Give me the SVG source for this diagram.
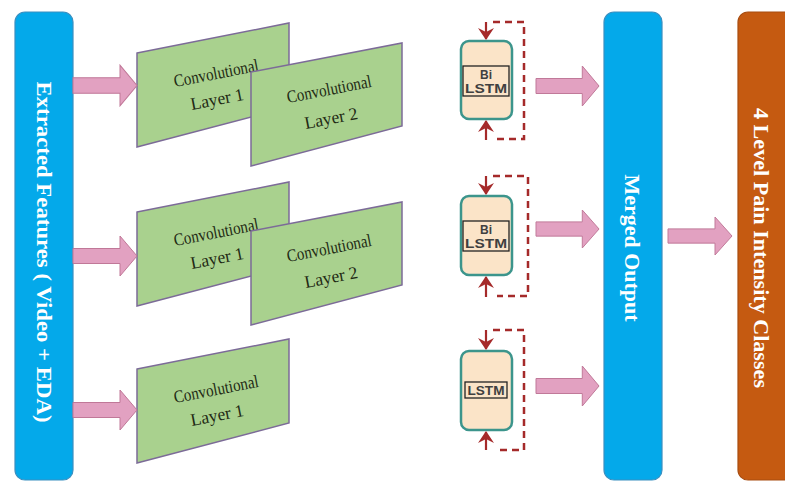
<svg xmlns="http://www.w3.org/2000/svg" width="785" height="481" viewBox="0 0 785 481">
<defs>
<style>
.bar{stroke:#3a8fc0;stroke-width:1.2}
.blue{fill:#04a9ea}
.orange{fill:#c55a11;stroke:#a84c10;stroke-width:1.2}
.bartxt{font-family:"Liberation Serif","Times New Roman",serif;font-weight:bold;font-size:22px;fill:#ffffff;text-anchor:middle}
.conv{fill:#a9d18e;stroke:#7c6b98;stroke-width:1.5}
.convtxt{font-family:"Liberation Serif","Times New Roman",serif;font-size:17.5px;fill:#1f2a14;text-anchor:middle}
.arrow{fill:#e2a1c1;stroke:#c07898;stroke-width:1}
.lstm{fill:#fbe4c8;stroke:#3c958c;stroke-width:2.5}
.inner{fill:none;stroke:#222222;stroke-width:1.3}
.lstmtxt{font-family:"Liberation Sans",Arial,sans-serif;font-weight:bold;font-size:12px;fill:#404040;text-anchor:middle}
.loop{fill:none;stroke:#a52a2a;stroke-width:2.5;stroke-dasharray:7,5}
.stem{fill:none;stroke:#a52a2a;stroke-width:2.2}
</style>
<marker id="ah" viewBox="0 0 12 16" refX="11" refY="8" markerWidth="12" markerHeight="16" markerUnits="userSpaceOnUse" orient="auto">
<path d="M0,0 L12,8 L0,16 L4,8 Z" fill="#a52a2a"/>
</marker>
<path id="blk" d="M0,-7.5 H47 V-20 L64,0 L47,20 V7.5 H0 Z"/>
</defs>

<g id="extracted-features">
<rect class="bar blue" x="15" y="12" width="58" height="468" rx="10"/>
<text class="bartxt" transform="translate(37,252) rotate(90)" textLength="341" lengthAdjust="spacingAndGlyphs">Extracted Features ( Video + EDA)</text>
</g>

<g id="merged-output">
<rect class="bar blue" x="604" y="12" width="58" height="468" rx="10"/>
<text class="bartxt" transform="translate(625,248) rotate(90)" textLength="147" lengthAdjust="spacingAndGlyphs">Merged Output</text>
</g>

<g id="pain-classes">
<rect class="orange" x="738" y="12" width="60" height="468" rx="10"/>
<text class="bartxt" transform="translate(754,248) rotate(90)" textLength="280" lengthAdjust="spacingAndGlyphs">4 Level Pain Intensity Classes</text>
</g>

<g id="conv1-row1">
<polygon class="conv" points="137,53 289,23 289,107 137,147"/>
<text class="convtxt" transform="translate(216,73) rotate(-11)" y="6" textLength="86" lengthAdjust="spacingAndGlyphs">Convolutional</text>
<text class="convtxt" transform="translate(217,99) rotate(-11)" y="6">Layer 1</text>
</g>
<g id="conv2-row1">
<polygon class="conv" points="251,72 402,43 402,126 251,166"/>
<text class="convtxt" transform="translate(329,89) rotate(-11)" y="6" textLength="86" lengthAdjust="spacingAndGlyphs">Convolutional</text>
<text class="convtxt" transform="translate(331,118) rotate(-11)" y="6">Layer 2</text>
</g>

<g id="conv1-row2">
<polygon class="conv" points="137,212 289,182 289,266 137,306"/>
<text class="convtxt" transform="translate(216,232) rotate(-11)" y="6" textLength="86" lengthAdjust="spacingAndGlyphs">Convolutional</text>
<text class="convtxt" transform="translate(217,258) rotate(-11)" y="6">Layer 1</text>
</g>
<g id="conv2-row2">
<polygon class="conv" points="251,231 402,202 402,285 251,325"/>
<text class="convtxt" transform="translate(329,248) rotate(-11)" y="6" textLength="86" lengthAdjust="spacingAndGlyphs">Convolutional</text>
<text class="convtxt" transform="translate(331,277) rotate(-11)" y="6">Layer 2</text>
</g>

<g id="conv1-row3">
<polygon class="conv" points="137,369 289,339 289,423 137,463"/>
<text class="convtxt" transform="translate(216,389) rotate(-11)" y="6" textLength="86" lengthAdjust="spacingAndGlyphs">Convolutional</text>
<text class="convtxt" transform="translate(217,415) rotate(-11)" y="6">Layer 1</text>
</g>

<g id="bilstm-row1">
<rect class="lstm" x="461" y="41" width="51" height="78" rx="8"/>
<rect class="inner" x="463" y="66" width="46" height="30"/>
<text class="lstmtxt" x="486" y="78.5">Bi</text>
<text class="lstmtxt" x="486" y="93" textLength="42" lengthAdjust="spacingAndGlyphs">LSTM</text>
</g>
<g id="bilstm-row2">
<rect class="lstm" x="461" y="196" width="51" height="79" rx="8"/>
<rect class="inner" x="463" y="221" width="46" height="30"/>
<text class="lstmtxt" x="486" y="233.5">Bi</text>
<text class="lstmtxt" x="486" y="248" textLength="42" lengthAdjust="spacingAndGlyphs">LSTM</text>
</g>
<g id="lstm-row3">
<rect class="lstm" x="461" y="351" width="51" height="79" rx="8"/>
<rect class="inner" x="465" y="382" width="42" height="16"/>
<text class="lstmtxt" x="486" y="395" textLength="37" lengthAdjust="spacingAndGlyphs">LSTM</text>
</g>

<g id="connectors">
<use href="#blk" class="arrow" transform="translate(73,85.5) scale(1,1.02)"/>
<use href="#blk" class="arrow" transform="translate(73,256)"/>
<use href="#blk" class="arrow" transform="translate(73,410)"/>
<use href="#blk" class="arrow" transform="translate(536,86) scale(0.985,1)"/>
<use href="#blk" class="arrow" transform="translate(536,229) scale(0.985,0.95)"/>
<use href="#blk" class="arrow" transform="translate(536,386) scale(0.985,1)"/>
<use href="#blk" class="arrow" transform="translate(668,236) scale(1,0.95)"/>

<path class="loop" d="M493,22 H524 V139 H497"/>
<path class="stem" d="M486,22 V39" marker-end="url(#ah)"/>
<path class="stem" d="M486,140 V121" marker-end="url(#ah)"/>

<path class="loop" d="M493,176 H528 V296 H497"/>
<path class="stem" d="M486,176 V194" marker-end="url(#ah)"/>
<path class="stem" d="M486,297 V277" marker-end="url(#ah)"/>

<path class="loop" d="M493,330 H524 V450 H497"/>
<path class="stem" d="M486,330 V349" marker-end="url(#ah)"/>
<path class="stem" d="M486,450 V432" marker-end="url(#ah)"/>
</g>
</svg>
